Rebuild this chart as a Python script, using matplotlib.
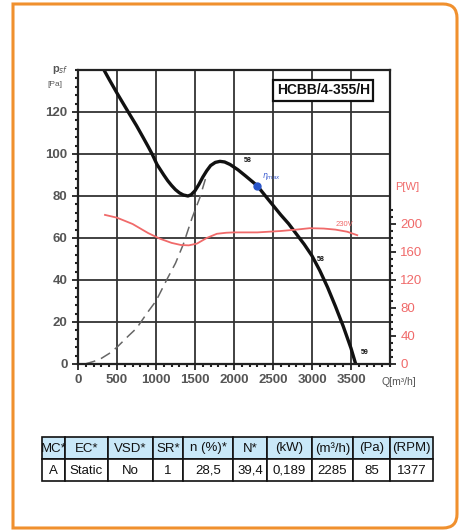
import matplotlib.pyplot as plt
from matplotlib.patches import Rectangle, PathPatch
from matplotlib.path import Path
from matplotlib.ticker import MultipleLocator

# ---- data ----
q_pressure = [333, 400, 500, 580, 667, 750, 833, 900, 950, 1013, 1060, 1100, 1150,
              1200, 1250, 1300, 1350, 1410, 1450, 1500, 1550, 1600, 1650, 1700,
              1760, 1820, 1880, 1950, 2050, 2150, 2295, 2436, 2600, 2700, 2808,
              2900, 3000, 3100, 3200, 3300, 3400, 3500, 3560]
p_static = [140, 135.5, 129, 124, 118.6, 113.5, 108, 103.5, 100, 95, 92.3, 90, 87.3,
            85, 83, 81.5, 80.5, 80, 80.6, 82.5, 85.5, 89, 92, 94.5,
            96, 96.5, 96.2, 95, 92.5, 89.5, 85, 78.5, 71, 66.8, 61.5,
            57, 51.5, 44.5, 36.5, 27.5, 18, 7.5, 0]

q_power = [346, 500, 700, 900, 1050, 1200, 1320, 1420, 1525, 1650, 1780, 1900, 2000,
           2300, 2600, 2800, 2970, 3150, 3300, 3450, 3580]
p_watt = [213, 209, 200, 187, 179, 173, 170, 169.5, 172, 180, 186, 187.5, 188,
          188, 190, 192, 194, 193.5, 192, 189, 184]

q_system = [90, 200, 300, 400, 500, 650, 750, 900, 1000, 1150, 1250, 1350, 1462, 1560, 1641]
p_system = [0, 1.2, 2.7, 5, 8, 13.5, 17, 25, 30, 41, 48, 57, 69.5, 79, 89]

eta_q = 2295
eta_p = 85

pt_labels = ["58", "58", "59"]
pt_label_q = [2130, 3060, 3620]
pt_label_p = [96, 49, 5]

y_ticks = [0, 20, 40, 60, 80, 100, 120]
x_ticks = [0, 500, 1000, 1500, 2000, 2500, 3000, 3500]
w_ticks = [0, 40, 80, 120, 160, 200]

table_header = ["MC*", "EC*", "VSD*", "SR*", "n (%)*", "N*", "(kW)", "(m³/h)", "(Pa)", "(RPM)"]
table_row = ["A", "Static", "No", "1", "28,5", "39,4", "0,189", "2285", "85", "1377"]

W, H = 462, 532
TICK_GREY = "#555555"
RED = "#f06a6a"

plt.rcParams['font.family'] = ['Liberation Sans', 'DejaVu Sans']

fig = plt.figure(figsize=(W / 100, H / 100), dpi=100)

# background axes in pixel coords for the frame and the table
tax = fig.add_axes([0, 0, 1, 1])
tax.set_xlim(0, W)
tax.set_ylim(H, 0)
tax.axis("off")

# orange frame, right corners rounded
L, T, R, B, rad = 13, 4, 457, 528, 14
verts = [(L, T), (R - rad, T), (R, T), (R, T + rad), (R, B - rad), (R, B), (R - rad, B),
         (L, B), (L, T)]
codes = [Path.MOVETO, Path.LINETO, Path.CURVE3, Path.CURVE3, Path.LINETO, Path.CURVE3,
         Path.CURVE3, Path.LINETO, Path.CLOSEPOLY]
tax.add_patch(PathPatch(Path(verts, codes), fill=False, edgecolor="#f0902e", linewidth=2.2))

ax = fig.add_axes([78 / W, (H - 364) / H, (390 - 78) / W, (364 - 70) / H])
ax.set_xlim(0, 4000)
ax.set_ylim(0, 140)
ax.set_xticks(x_ticks)
ax.set_yticks(y_ticks)
ax.xaxis.set_minor_locator(MultipleLocator(100))
ax.yaxis.set_minor_locator(MultipleLocator(4))
ax.grid(True, which="major", color="#333333", linewidth=1.3)
ax.tick_params(which="major", length=4, width=1.3, colors="#222222",
               labelcolor=TICK_GREY, labelsize=9.5)
ax.tick_params(which="minor", length=2, width=1.5, colors="#222222")
for lab in ax.get_xticklabels() + ax.get_yticklabels():
    lab.set_fontweight("bold")
for s in ax.spines.values():
    s.set_linewidth(1.6)
    s.set_color("#222222")

# system curve (dashed)
ax.plot(q_system, p_system, color="#666666", linewidth=1.1, dashes=(7, 4))
# static pressure curve
ax.plot(q_pressure, p_static, color="#111111", linewidth=2.4,
        solid_capstyle="round", solid_joinstyle="round")
# eta max point
ax.plot([eta_q], [eta_p], "o", color="#2a55c8", markersize=5)
ax.text(eta_q + 60, eta_p + 3.5, r"$\eta_{max}$", color="#3a5bd0", fontsize=5.5)
for lab, qx, py in zip(pt_labels, pt_label_q, pt_label_p):
    ax.text(qx, py, lab, fontsize=5, color="#111111", fontweight="bold")

# model box
ax.text(0.935, 0.955, "HCBB/4-355/H", transform=ax.transAxes, ha="right", va="top",
        fontsize=10, fontweight="bold", color="#111111",
        bbox=dict(boxstyle="square,pad=0.25", facecolor="white",
                  edgecolor="#111111", linewidth=1.6))

# power axis
ax2 = ax.twinx()
ax2.set_ylim(0, 420)
ax2.set_yticks(w_ticks)
ax2.set_yticks(range(0, 221, 10), minor=True)
ax2.tick_params(which="major", length=4, width=1.3, colors="#222222",
                labelcolor=RED, labelsize=9.5)
ax2.tick_params(which="minor", length=2, width=1.5, colors="#222222")
for s in ax2.spines.values():
    s.set_visible(False)
ax2.plot(q_power, p_watt, color=RED, linewidth=1.3)
ax2.text(3300, 197, "230V", color=RED, fontsize=5.5)

# axis captions
fig.text(52 / W, 1 - 72 / H, r"p$_{sf}$", fontsize=8, color=TICK_GREY, fontweight="bold")
fig.text(47 / W, 1 - 86 / H, "[Pa]", fontsize=6, color=TICK_GREY)
fig.text(395 / W, 1 - 190 / H, "P[W]", fontsize=8, color=RED)
fig.text(381 / W, 1 - 385 / H, "Q[m³/h]", fontsize=7.5, color=TICK_GREY)

# ---- table ----
col_edges = [42, 65, 108, 153, 183, 233, 267, 312, 353, 390, 433]
row_edges = [437, 459, 481]
for r, cells in enumerate([table_header, table_row]):
    y0, y1 = row_edges[r], row_edges[r + 1]
    face = "#c9e8f8" if r == 0 else "white"
    for c, txt in enumerate(cells):
        x0, x1 = col_edges[c], col_edges[c + 1]
        tax.add_patch(Rectangle((x0, y0), x1 - x0, y1 - y0, facecolor=face,
                                edgecolor="#111111", linewidth=1.2))
        tax.text((x0 + x1) / 2, (y0 + y1) / 2 + 0.5, txt, ha="center", va="center",
                 fontsize=9.5, color="#111111")

fig.savefig("out.png", dpi=100)
